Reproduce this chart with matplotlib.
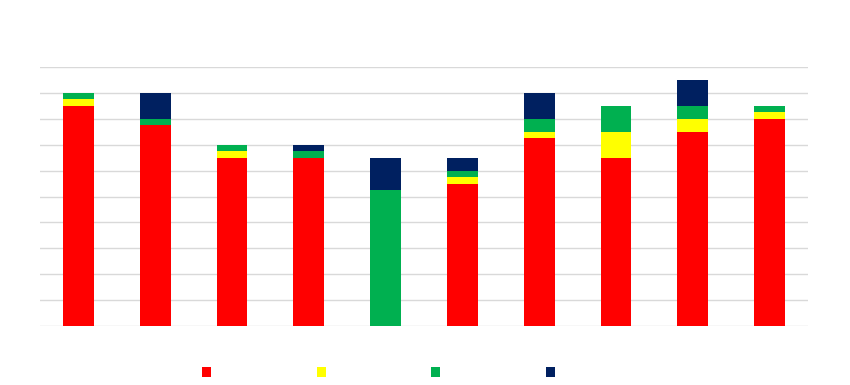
import matplotlib
matplotlib.use("Agg")
import matplotlib.pyplot as plt
import numpy as np
from matplotlib.patches import Patch

categories = [f"C{i}" for i in range(1, 11)]
red = [8.5, 7.75, 6.5, 6.5, 0.0, 5.5, 7.25, 6.5, 7.5, 8.0]
yellow = [0.25, 0.0, 0.25, 0.0, 0.0, 0.25, 0.25, 1.0, 0.5, 0.25]
green = [0.25, 0.25, 0.25, 0.25, 5.25, 0.25, 0.5, 1.0, 0.5, 0.25]
navy = [0.0, 1.0, 0.0, 0.25, 1.25, 0.5, 1.0, 0.0, 1.0, 0.0]
series = [red, yellow, green, navy]
colors = ["#FF0000", "#FFFF00", "#00B050", "#002060"]

fig = plt.figure(figsize=(8.5, 3.85), dpi=100)
ax = fig.add_axes([40/850, 1-326/385, 768/850, (326-67)/385])
x = np.arange(len(categories))
bottom = np.zeros(len(categories))
for vals, c in zip(series, colors):
    ax.bar(x, vals, 0.4, bottom=bottom, color=c, zorder=3)
    bottom += np.array(vals)

ax.set_xlim(-0.5, len(categories) - 0.5)
ax.set_ylim(0, 10)
ax.set_yticks(np.arange(0, 11, 1))
ax.yaxis.grid(True, color="#d9d9d9", linewidth=1)
ax.tick_params(left=False, bottom=False, labelleft=False, labelbottom=False)
for s in ax.spines.values():
    s.set_visible(False)

handles = [Patch(facecolor=c) for c in colors]
fig.legend(handles, ["", "", "", ""], loc="center", bbox_to_anchor=(378.5/850, 1-373/385),
           ncol=4, frameon=False, fontsize=10, handlelength=0.65, handleheight=0.8,
           handletextpad=0.0, columnspacing=7.6)

fig.savefig("out.png", dpi=100)
